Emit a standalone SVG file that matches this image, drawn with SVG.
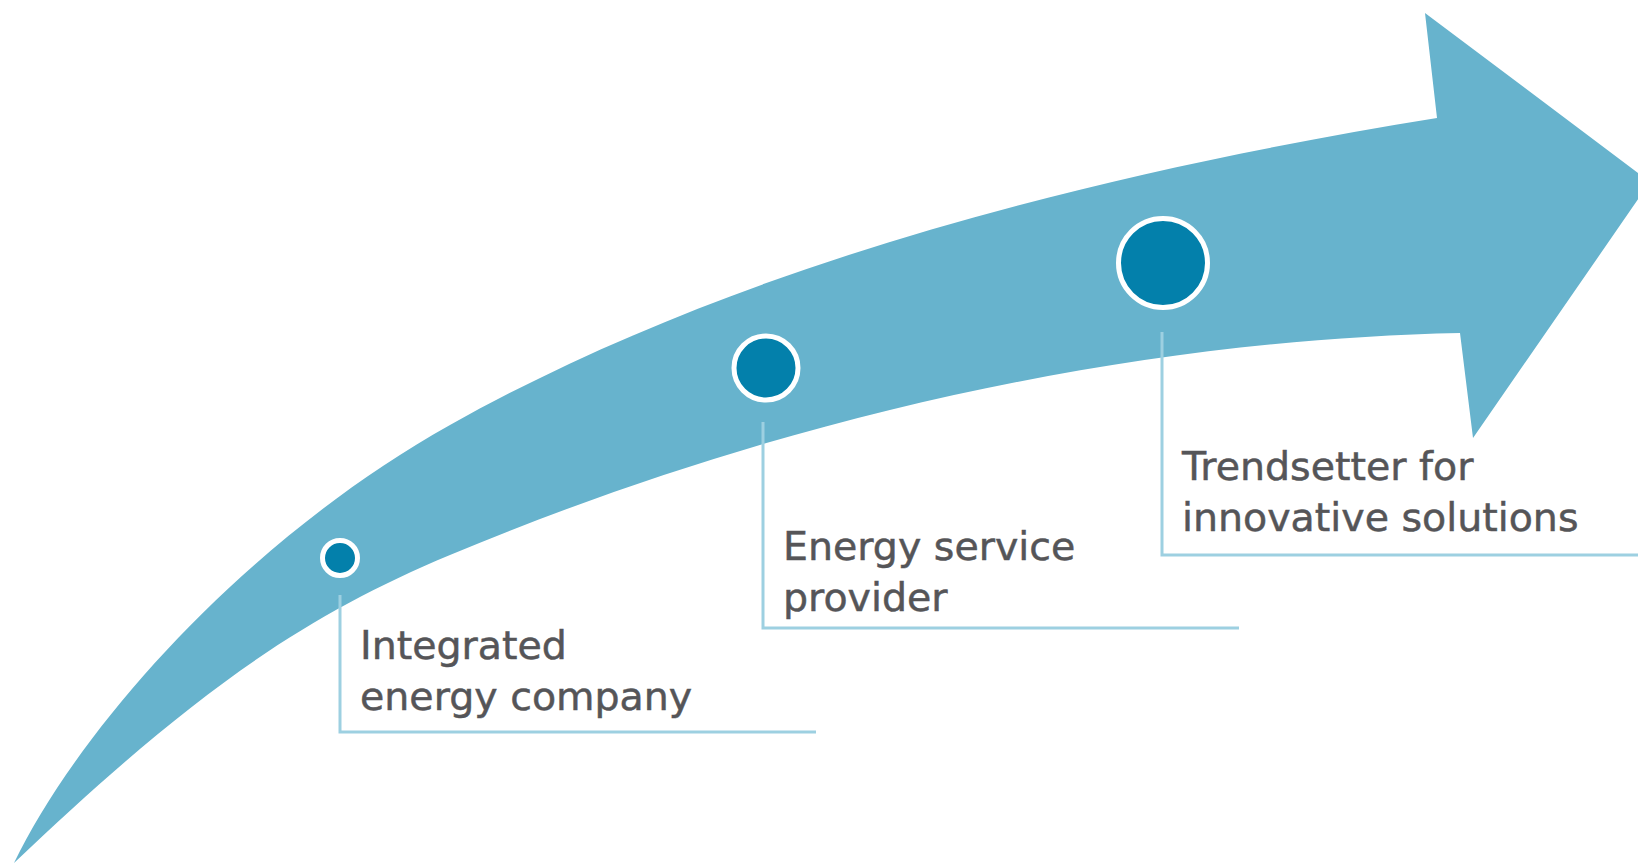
<svg xmlns="http://www.w3.org/2000/svg" width="1638" height="863" viewBox="0 0 1638 863">
  <style>
    .band { fill: #67b3cd; }
    .dot { fill: #0380ab; stroke: #ffffff; stroke-width: 5; }
    .leader { fill: none; stroke: #9dd0e1; stroke-width: 3; }
    .label { font-family: "DejaVu Sans", "Liberation Sans", sans-serif; font-size: 39.5px; fill: #555558; stroke: #555558; stroke-width: 0.5; }
  </style>
  <rect width="1638" height="863" fill="#ffffff"/>

  <!-- curved growth arrow: outer edge from the tail up to the head, then the inner edge back -->
  <g id="arrow">
    <path class="band" d="M14,863
      C82,723 250,537 450,425
      C740,262 1108,171 1437,118
      L1425,13 L1650,182 L1473,438 L1460,333
      C1130,340 780,417 450,555
      C300,618 194,692 14,863 Z"/>
  </g>

  <!-- leader lines from milestones to labels -->
  <g id="connectors">
    <polyline class="leader" points="340,595 340,732 816,732"/>
    <polyline class="leader" points="763,422 763,628 1239,628"/>
    <polyline class="leader" points="1162,332 1162,555 1638,555"/>
  </g>

  <g id="stage1">
    <circle class="dot" cx="340" cy="558" r="17.5"/>
    <text class="label" x="360" y="659">Integrated</text>
    <text class="label" x="360" y="710">energy company</text>
  </g>

  <g id="stage2">
    <circle class="dot" cx="766" cy="368" r="32"/>
    <text class="label" x="783" y="560">Energy service</text>
    <text class="label" x="783" y="611">provider</text>
  </g>

  <g id="stage3">
    <circle class="dot" cx="1163" cy="263" r="44.5"/>
    <text class="label" x="1182" y="480">Trendsetter for</text>
    <text class="label" x="1182" y="531">innovative solutions</text>
  </g>
</svg>
